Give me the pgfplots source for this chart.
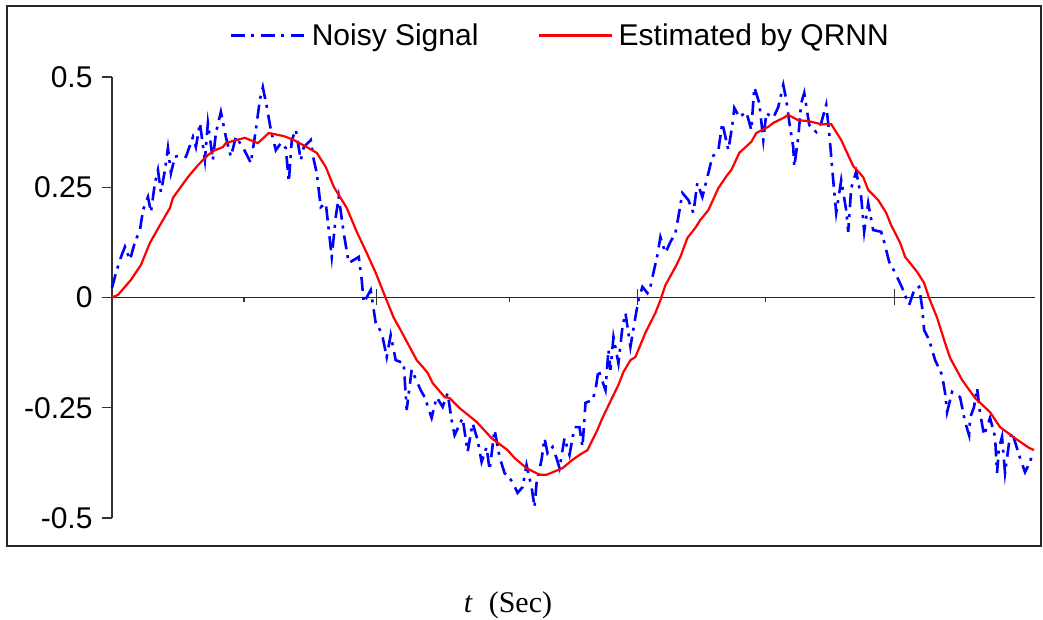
\documentclass[border=0pt]{standalone}
\usepackage{pgfplots}
\pgfplotsset{compat=1.18}
\usepackage{fontspec}
\setmainfont{Liberation Sans}
\newfontfamily\timesfont{Liberation Serif}
\newcommand{\chartfont}{\fontsize{30bp}{36bp}\selectfont}
\definecolor{sigblue}{RGB}{0,0,255}
\definecolor{estred}{RGB}{255,0,0}
\begin{document}
\begin{tikzpicture}
\useasboundingbox (0bp,0bp) rectangle (1043bp,620bp);
\draw[line width=2bp, black!85] (7bp,74bp) rectangle (1041bp,614bp);
\begin{axis}[
  at={(112bp,102bp)}, anchor=south west,
  scale only axis, width=923bp, height=441bp,
  xmin=0, xmax=924, ymin=-0.5, ymax=0.5,
  axis y line=left, axis x line=middle,
  axis line style={-, black!80, line width=1.4bp},
  every inner x axis line/.append style={-, black!85, line width=1.6bp},
  ytick=\empty,
  extra y ticks={-0.5,-0.25,0,0.25,0.5},
  extra y tick labels={-0.5,-0.25,0,0.25,0.5},
  extra y tick style={major tick length=10bp, ytick align=outside,
    yticklabel style={font=\chartfont, anchor=east, xshift=-6bp},
    ytick style={black!80, line width=1.3bp}},
  xtick={132,398,654}, xticklabels={},
  major tick length=5bp, xtick align=outside,
  extra x ticks={265,526,783}, extra x tick labels={},
  extra x tick style={major tick length=16bp, xtick align=center},
  xtick style={black!80, line width=1.3bp},
  xlabel={{\timesfont\itshape t}\ \ {\timesfont(Sec)}},
  xlabel style={font=\chartfont, at={(axis description cs:0.429,-0.197)}, anchor=center},
  legend columns=2,
  legend style={draw=none, fill=none, inner sep=0pt, font=\chartfont,
    at={(axis description cs:0.1278,1.094)}, anchor=west,
    nodes={inner sep=0pt},
    /tikz/every odd column/.append style={column sep=6bp},
    /tikz/every even column/.append style={column sep=59bp}},
  legend image code/.code={\draw[#1] (0bp,0bp) -- (73bp,0bp);},
  clip=false,
]
\addplot[sigblue, line width=2.6bp, dash pattern=on 14bp off 6bp on 3bp off 7bp] coordinates {
(0,0.022) (4,0.056) (9,0.092) (13,0.115) (18,0.085) (23,0.126) (28,0.153) (31,0.198)
(36,0.228) (39,0.194) (43,0.260) (46,0.289) (49,0.239) (53,0.289) (56,0.339) (59,0.282)
(63,0.319) (69,0.323) (74,0.319) (81,0.364) (84,0.341) (88,0.396) (93,0.312) (96,0.396)
(101,0.312) (104,0.373) (109,0.421) (114,0.364) (119,0.319) (124,0.364) (131,0.341)
(139,0.305) (144,0.380) (148,0.448) (151,0.477) (155,0.432) (159,0.380) (164,0.334)
(169,0.350) (174,0.339) (177,0.262) (180,0.357) (184,0.380) (189,0.312) (192,0.341)
(199,0.357) (202,0.312) (205,0.282) (209,0.205) (214,0.214) (220,0.092) (224,0.183)
(227,0.228) (232,0.146) (237,0.078) (247,0.092) (250,0.040) (252,-0.012) (259,0.017)
(264,-0.058) (270,-0.080) (275,-0.135) (279,-0.085) (284,-0.142) (292,-0.149)
(295,-0.255) (300,-0.164) (309,-0.210) (313,-0.226) (320,-0.273) (325,-0.226)
(331,-0.248) (336,-0.217) (340,-0.278) (343,-0.312) (351,-0.273) (356,-0.350)
(361,-0.285) (366,-0.323) (370,-0.373) (375,-0.339) (378,-0.391) (383,-0.300)
(388,-0.362) (393,-0.398) (401,-0.418) (406,-0.443) (411,-0.430) (415,-0.380)
(420,-0.430) (423,-0.475) (425,-0.421) (430,-0.368) (433,-0.319) (436,-0.353)
(441,-0.339) (445,-0.364) (448,-0.387) (453,-0.319) (458,-0.357) (463,-0.294)
(468,-0.294) (471,-0.339) (474,-0.239) (481,-0.232) (484,-0.210) (487,-0.164)
(494,-0.210) (497,-0.119) (499,-0.164) (502,-0.090) (507,-0.149) (511,-0.067)
(514,-0.035) (519,-0.112) (524,-0.044) (527,-0.006) (531,0.024) (536,0.010)
(539,0.024) (542,0.056) (546,0.096) (549,0.137) (554,0.101) (559,0.126) (564,0.146)
(567,0.183) (571,0.237) (577,0.221) (582,0.192) (586,0.260) (591,0.228) (596,0.273)
(601,0.319) (607,0.334) (611,0.396) (617,0.334) (621,0.391) (623,0.430) (628,0.409)
(635,0.421) (640,0.380) (643,0.477) (648,0.441) (652,0.357) (655,0.418) (662,0.407)
(667,0.432) (672,0.482) (675,0.448) (678,0.398) (682,0.341) (683,0.296) (687,0.364)
(690,0.441) (693,0.464) (698,0.391) (705,0.375) (710,0.396) (715,0.437) (718,0.373)
(722,0.266) (725,0.192) (730,0.266) (735,0.198) (737,0.149) (740,0.248) (745,0.285)
(750,0.228) (753,0.149) (757,0.214) (762,0.153) (770,0.149) (773,0.126) (778,0.081)
(784,0.056) (791,0.022) (798,-0.017) (803,0.017) (808,0.024) (811,-0.022) (813,-0.074)
(818,-0.096) (824,-0.142) (831,-0.176) (834,-0.217) (836,-0.260) (841,-0.214)
(849,-0.226) (854,-0.282) (858,-0.312) (859,-0.273) (863,-0.248) (866,-0.205)
(869,-0.262) (873,-0.312) (879,-0.273) (884,-0.316) (886,-0.398) (888,-0.341)
(891,-0.316) (894,-0.398) (898,-0.330) (901,-0.305) (908,-0.357) (914,-0.396)
(919,-0.373) (922,-0.350)
};
\addlegendentry{Noisy Signal}
\addplot[estred, line width=2.2bp] coordinates {
(0,0) (6,0.006) (19,0.040) (29,0.074) (38,0.124) (48,0.164) (58,0.203) (61,0.226)
(76,0.273) (86,0.300) (96,0.323) (103,0.334) (111,0.341) (114,0.350) (121,0.355)
(133,0.362) (146,0.350) (157,0.373) (172,0.366) (182,0.357) (195,0.341) (205,0.328)
(214,0.296) (222,0.251) (235,0.203) (245,0.149) (255,0.101) (264,0.056) (274,-0.001)
(282,-0.046) (289,-0.074) (297,-0.108) (305,-0.142) (312,-0.160) (316,-0.171)
(321,-0.194) (333,-0.226) (338,-0.228) (348,-0.251) (353,-0.260) (365,-0.282)
(380,-0.319) (396,-0.346) (403,-0.364) (415,-0.387) (428,-0.402) (435,-0.402)
(451,-0.387) (461,-0.368) (468,-0.357) (476,-0.346) (486,-0.300) (491,-0.273)
(507,-0.198) (512,-0.169) (519,-0.142) (524,-0.135) (534,-0.080) (544,-0.035)
(549,-0.006) (554,0.028) (564,0.069) (569,0.092) (576,0.135) (584,0.158) (589,0.176)
(597,0.198) (607,0.248) (616,0.278) (620,0.289) (628,0.328) (640,0.353) (645,0.373)
(657,0.387) (662,0.396) (672,0.407) (677,0.414) (687,0.402) (697,0.400) (710,0.393)
(720,0.393) (730,0.357) (742,0.298) (752,0.273) (757,0.244) (767,0.221) (775,0.192)
(780,0.164) (789,0.124) (794,0.092) (806,0.058) (813,0.033) (818,-0.001) (826,-0.046)
(833,-0.096) (839,-0.137) (851,-0.187) (864,-0.228) (879,-0.260) (889,-0.294)
(904,-0.319) (918,-0.341) (923,-0.346)
};
\addlegendentry{Estimated by QRNN}
\end{axis}
\end{tikzpicture}
\end{document}
